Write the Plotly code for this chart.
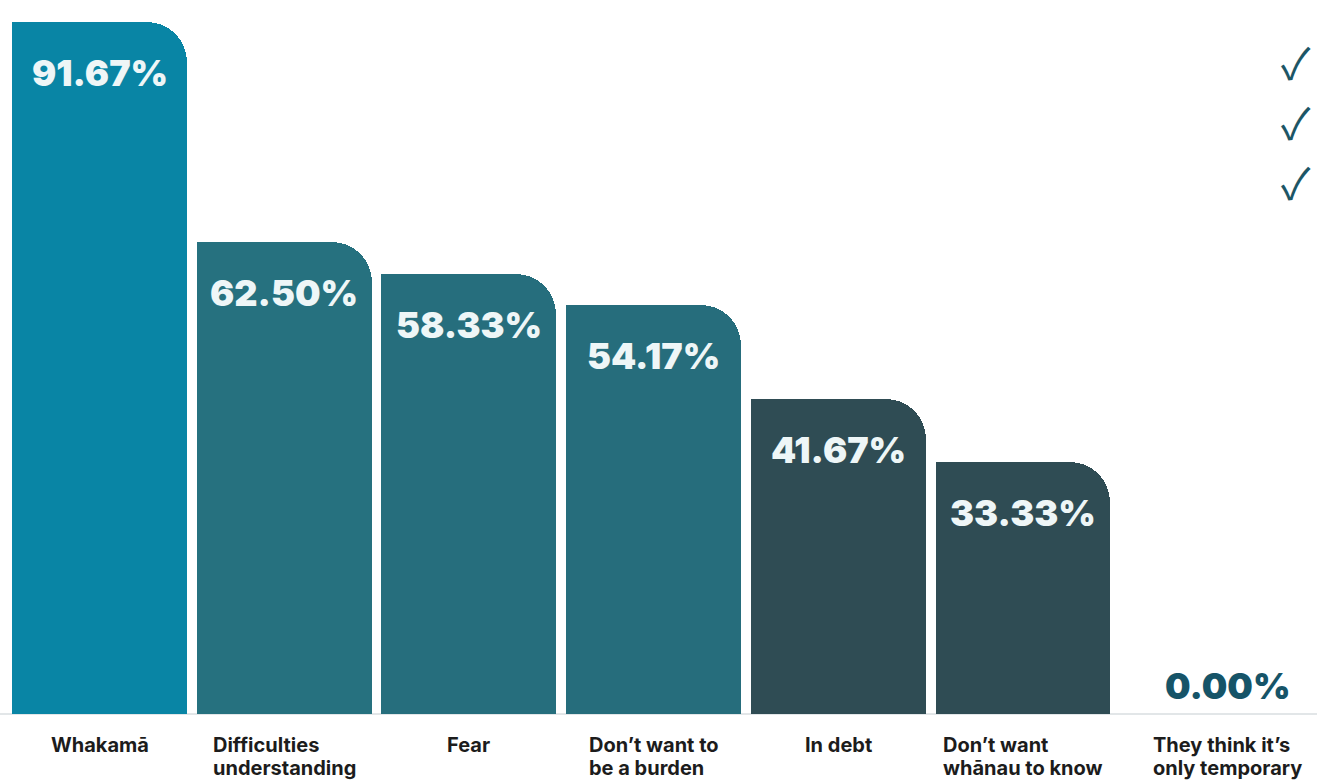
import plotly.graph_objects as go

# Reasons people give for not seeking help
categories = [
    "Whakamā",
    "Difficulties<br>understanding",
    "Fear",
    "Don’t want to<br>be a burden",
    "In debt",
    "Don’t want<br>whānau to know",
    "They think it’s<br>only temporary",
]
values = [91.67, 62.50, 58.33, 54.17, 41.67, 33.33, 0.00]
bar_colors = ["#0985a5", "#26717f", "#266e7d", "#266d7c", "#2f4c54", "#2f4c54", "#2f4c54"]
value_labels = [f"{v:.2f}%" for v in values]

W, H = 1317, 781
MARGIN_B = 67
BAR_W = 0.947
x = list(range(len(categories)))

fig = go.Figure()

# Full bars with rounded tops
fig.add_trace(go.Bar(
    x=x, y=values, width=BAR_W, offset=-BAR_W / 2,
    marker=dict(color=bar_colors, cornerradius=40, line=dict(width=0)),
    hoverinfo="skip", showlegend=False,
))
# Left half overlay keeps the top-left corner square
fig.add_trace(go.Bar(
    x=x, y=values, width=BAR_W / 2, offset=-BAR_W / 2,
    marker=dict(color=bar_colors, line=dict(width=0)),
    hoverinfo="skip", showlegend=False,
))

annotations = []
for i, (v, lab, cat) in enumerate(zip(values, value_labels, categories)):
    shift = 20 if i == len(values) - 1 else 0
    if v > 0:
        annotations.append(dict(
            x=i, y=v, xref="x", yref="y", text=lab, showarrow=False,
            yanchor="middle", yshift=-51, xshift=shift,
            font=dict(family="Inter", size=36, color="#eef6f7", weight=900),
        ))
    else:
        annotations.append(dict(
            x=i, y=v, xref="x", yref="y", text=lab, showarrow=False,
            yanchor="middle", yshift=28, xshift=shift,
            font=dict(family="Inter", size=36, color="#165468", weight=900),
        ))
    # Base size sets the (tight) line spacing; the span sets the glyph size
    annotations.append(dict(
        x=i, y=0, xref="x", yref="paper",
        text=f'<span style="font-size:20px">{cat}</span>', showarrow=False,
        xanchor="center", yanchor="top", yshift=-17, xshift=shift, align="left",
        font=dict(family="Inter", size=18, color="#1c1c1c", weight=700),
    ))

# Check marks in the top-right corner
plot_h = H - MARGIN_B
for cy in [60, 120, 180]:
    annotations.append(dict(
        x=1296 / W, y=(plot_h - cy) / plot_h, xref="paper", yref="paper",
        text="✓", showarrow=False, xanchor="center", yanchor="middle",
        font=dict(family="Noto Sans CJK JP", size=43, color="#1d5666"),
    ))

fig.update_layout(
    width=W, height=H,
    margin=dict(l=0, r=0, t=0, b=MARGIN_B),
    paper_bgcolor="white", plot_bgcolor="white",
    barmode="overlay", bargap=0,
    annotations=annotations,
    xaxis=dict(range=[-0.539, 6.592], showticklabels=False, showgrid=False,
               zeroline=False, showline=False, ticks="", fixedrange=True),
    yaxis=dict(range=[0, 94.6], showticklabels=False, showgrid=False,
               zeroline=True, zerolinecolor="#e2e6e8", zerolinewidth=2,
               showline=False, ticks="", fixedrange=True),
)

fig.write_html("out.html", config={"displayModeBar": False})
